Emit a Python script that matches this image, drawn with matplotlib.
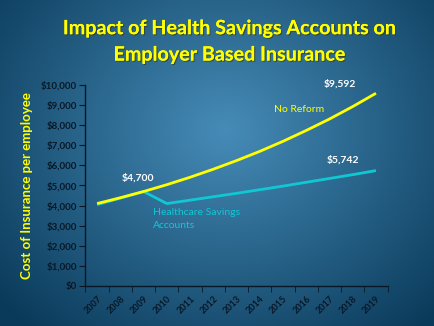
import numpy as np
import matplotlib
matplotlib.use('Agg')
import matplotlib.pyplot as plt
import matplotlib.patheffects as pe
from matplotlib.ticker import FuncFormatter, FixedLocator

years = ['2007', '2008', '2009', '2010', '2011', '2012', '2013',
         '2014', '2015', '2016', '2017', '2018', '2019']
no_reform = [4100, 4390, 4700, 5040, 5410, 5810, 6240, 6700, 7200, 7740, 8310, 8930, 9592]
hsa = [4050, 4370, 4700, 4100, 4270, 4440, 4610, 4790, 4970, 5160, 5350, 5540, 5742]

YELLOW = '#ffff00'
CYAN = '#10c8d4'
DARK = '#081826'
plt.rcParams['font.family'] = ['Lato', 'DejaVu Sans']

fig = plt.figure(figsize=(4.34, 3.26), dpi=100)

# background gradient
bg = fig.add_axes([0, 0, 1, 1])
yy, xx = np.mgrid[0:326, 0:434]
r = np.sqrt(((xx - 225) / 300.0) ** 2 + ((yy - 130) / 260.0) ** 2)
r = np.clip(r, 0, 1)
c_in = np.array([0x46, 0x8c, 0xb8]) / 255.0
c_out = np.array([0x0a, 0x3a, 0x5a]) / 255.0
img = c_in[None, None, :] * (1 - r[..., None]) + c_out[None, None, :] * r[..., None]
bg.imshow(img, aspect='auto', extent=[0, 1, 0, 1], origin='upper')
bg.axis('off')

ax = fig.add_axes([0.197, 0.123, 0.696, 0.616])
ax.patch.set_alpha(0)
x = np.arange(len(years))
ax.plot(x, hsa, color=CYAN, lw=2, solid_capstyle='butt')
ax.plot(x, no_reform, color=YELLOW, lw=2, solid_capstyle='butt')

ax.set_xlim(-0.5, len(years) - 0.5)
ax.set_ylim(0, 10000)
ax.set_yticks(np.arange(0, 10001, 1000))
ax.yaxis.set_major_formatter(FuncFormatter(lambda v, p: '${:,.0f}'.format(v)))
ax.set_xticks(x)
ax.set_xticklabels(years, rotation=45, ha='right', rotation_mode='anchor', fontweight='bold')
for lab in ax.get_yticklabels():
    lab.set_fontweight('bold')
ax.xaxis.set_minor_locator(FixedLocator(np.arange(-0.5, len(years), 1)))
ax.tick_params(axis='x', which='major', length=0, labelsize=6.5, colors=DARK, pad=6)
ax.tick_params(axis='x', which='minor', length=4, color=DARK, direction='out')
ax.tick_params(axis='y', length=4, labelsize=7, colors=DARK, pad=2)
for s in ['top', 'right']:
    ax.spines[s].set_visible(False)
for s in ['left', 'bottom']:
    ax.spines[s].set_color(DARK)
    ax.spines[s].set_linewidth(1)

ax.set_ylabel('Cost of Insurance per employee', color=YELLOW, fontsize=9.5,
              fontweight='bold', labelpad=6)

ax.annotate('${:,}'.format(no_reform[2]), (x[2], no_reform[2]), xytext=(-4, 8),
            textcoords='offset points', color='white', fontsize=7.5, ha='center',
            fontweight='bold')
ax.annotate('${:,}'.format(no_reform[-1]), (x[-1], no_reform[-1]), xytext=(-26, 5),
            textcoords='offset points', color='white', fontsize=7.5, ha='center',
            fontweight='bold')
ax.annotate('${:,}'.format(hsa[-1]), (x[-1], hsa[-1]), xytext=(-24, 6),
            textcoords='offset points', color='white', fontsize=7.5, ha='center',
            fontweight='bold')
ax.text(7.6, 8800, 'No Reform', color=YELLOW, fontsize=7.5, ha='left', va='center')
ax.text(2.4, 3330, 'Healthcare Savings\nAccounts', color=CYAN, fontsize=7.5,
        ha='left', va='center', linespacing=1.5)

fig.text(0.53, 0.873, 'Impact of Health Savings Accounts on\nEmployer Based Insurance',
         color=YELLOW, fontsize=14.2, fontweight='bold', ha='center', va='center',
         linespacing=1.4,
         path_effects=[pe.withSimplePatchShadow(offset=(0.8, -0.8), shadow_rgbFace='#333300', alpha=0.6),
                       pe.Normal()])

fig.savefig('out.png', dpi=100)
